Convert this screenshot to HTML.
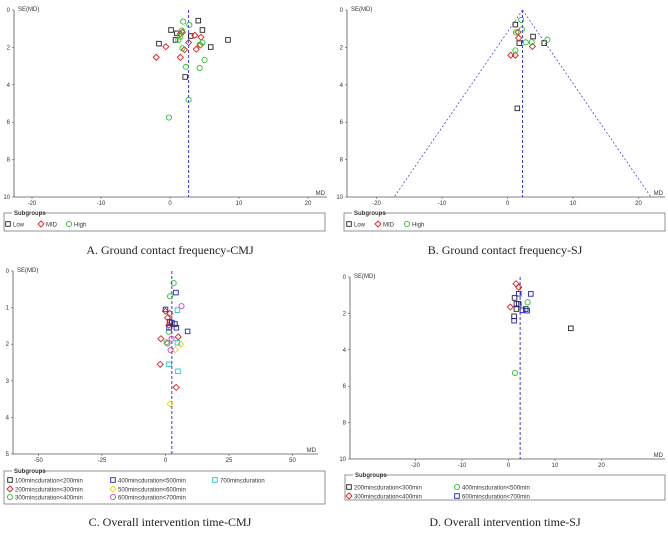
<!DOCTYPE html>
<html><head><meta charset="utf-8"><style>
html,body{margin:0;padding:0;background:#fff}
svg{display:block}
.t{font-family:"Liberation Sans",sans-serif;font-size:6px;fill:#333}
.cap{font-family:"Liberation Serif",serif;font-size:12px;fill:#222}
</style></head><body>
<svg id="fig" width="668" height="533" viewBox="0 0 668 533" xmlns="http://www.w3.org/2000/svg"></svg>
<script>
// ---- Panel A data: ground contact frequency CMJ ----
const aLowMD=[4.1,0.15,4.7,3.0,0.8,8.4,-1.6,5.9,2.2,1.0];
const aLowSE=[0.57,1.07,1.07,1.39,1.6,1.6,1.8,1.98,3.58,1.25];
const aMidMD=[1.8,1.5,3.6,4.5,2.7,-0.6,4.4,3.8,2.1,-2.0,1.5];
const aMidSE=[1.19,1.28,1.35,1.46,1.74,1.96,1.87,2.1,2.12,2.53,2.53];
const aHighMD=[1.9,2.8,1.7,1.5,1.2,4.7,4.3,1.8,5.0,2.3,4.3,2.7,-0.15];
const aHighSE=[0.62,0.8,1.1,1.42,1.6,1.74,1.87,2.05,2.67,3.04,3.1,4.8,5.75];
// ---- Panel B data: ground contact frequency SJ ----
const bLowMD=[1.2,1.8,3.9,5.6,1.5];
const bLowSE=[0.78,1.77,1.42,1.77,5.26];
const bMidMD=[1.7,1.6,3.8,0.5,1.2];
const bMidSE=[1.5,1.19,1.95,2.42,2.42];
const bHighMD=[2.1,2.2,1.3,2.8,3.7,6.1,1.2];
const bHighSE=[0.53,1.03,1.2,1.73,1.72,1.59,2.16];
// ---- Panel C data: overall intervention time CMJ ----
const c1MD=[1.6,3.7], c1SE=[1.39,1.45];
const c2MD=[0,1.7,0.8,1.3,-1.8,5,-2.1,4.2], c2SE=[1.1,1.16,1.28,1.48,1.85,1.8,2.55,3.18];
const c3MD=[3.2,1.8,1.3,0.4], c3SE=[0.33,0.69,1.66,1.95];
const c4MD=[4.1,0,2.5,4.3,8.7,1.4], c4SE=[0.59,1.05,1.41,1.55,1.65,1.55];
const c5MD=[6,3.9,1.8], c5SE=[2.0,2.15,3.63];
const c6MD=[6.3,2.4,0.8,2], c6SE=[0.96,1.85,1.98,2.16];
const c7MD=[4.7,4.7,1.4,4.9], c7SE=[1.07,1.96,2.55,2.74];
// ---- Panel D data: overall intervention time SJ ----
const d1MD=[1.3,2.2,3.7,1.7,1.2,13.4], d1SE=[1.15,1.48,1.76,1.76,2.16,2.82];
const d2MD=[1.6,2.2,0.4], d2SE=[0.37,0.57,1.65];
const d3MD=[4.1,1.4], d3SE=[1.39,5.27];
const d4MD=[2.2,4.8,1.7,3.0,4.0,1.2], d4SE=[0.92,0.93,1.47,1.83,1.85,2.4];
// pooled estimates
const pooled=[2.7,2.3,2.5,2.5];
const xTicksA=[-20,-10,0,10,20], yTicksA=[0,2,4,6,8,10];
const xTicksC=[-50,-25,0,25,50], yTicksC=[0,1,2,3,4,5];

const NS="http://www.w3.org/2000/svg";
const svg=document.getElementById('fig');
function el(tag,attrs,parent,txt){const e=document.createElementNS(NS,tag);for(const k in attrs)e.setAttribute(k,attrs[k]);if(txt!==undefined)e.textContent=txt;(parent||svg).appendChild(e);return e;}
const COL={black:'#222',red:'#e02020',green:'#30c030',blue:'#2020c0',yellow:'#e8d800',magenta:'#d040d0',cyan:'#20c8c8'};

function marker(g,shape,color,x,y){
  let m;
  if(shape==='sq') m=el('rect',{x:x-2.3,y:y-2.3,width:4.6,height:4.6,fill:'none',stroke:color,'stroke-width':0.9},g);
  else if(shape==='di') m=el('polygon',{points:`${x},${y-3} ${x+3},${y} ${x},${y+3} ${x-3},${y}`,fill:'none',stroke:color,'stroke-width':0.9},g);
  else m=el('circle',{cx:x,cy:y,r:2.6,fill:'none',stroke:color,'stroke-width':0.9},g);
  
  
}

function panel(p){
  const g=el('g',{});
  
  
  const sx=v=>p.x0+(v-p.xmin)*(p.x1-p.x0)/(p.xmax-p.xmin);
  const sy=v=>p.y0+(v-p.ymin)*(p.y1-p.y0)/(p.ymax-p.ymin);
  // axes
  el('line',{x1:p.ax,y1:p.y0,x2:p.ax,y2:p.y1,stroke:'#555','stroke-width':0.8},g);
  el('line',{x1:p.ax,y1:p.y1,x2:p.axEnd,y2:p.y1,stroke:'#555','stroke-width':0.8},g);
  p.yt.forEach(v=>{const y=sy(v);el('line',{x1:p.ax-2,y1:y,x2:p.ax,y2:y,stroke:'#555','stroke-width':0.6},g);
    el('text',{x:p.ax-4,y:y+2,'text-anchor':'end',class:'t'},g,String(v));});
  p.xt.forEach(v=>{const x=sx(v);el('line',{x1:x,y1:p.y1,x2:x,y2:p.y1+2,stroke:'#555','stroke-width':0.6},g);
    el('text',{x:x,y:p.y1+8,'text-anchor':'middle',class:'t'},g,String(v));});
  el('text',{x:p.ax+4,y:p.y0+1,class:'t'},g,'SE(MD)');
  el('text',{x:p.axEnd-2,y:p.y1-2,'text-anchor':'end',class:'t'},g,'MD');
  // pooled line
  const mx=sx(p.pooled);
  el('line',{x1:mx,y1:p.y0,x2:mx,y2:p.y1,stroke:'#2222dd','stroke-width':0.9,'stroke-dasharray':'3,2'},g);
  if(p.funnel){
    const yb=p.ymax, half=1.96*yb;
    el('line',{x1:mx,y1:p.y0,x2:sx(p.pooled-half),y2:p.y1,stroke:'#3333dd','stroke-width':0.7,'stroke-dasharray':'2,2'},g);
    el('line',{x1:mx,y1:p.y0,x2:sx(p.pooled+half),y2:p.y1,stroke:'#3333dd','stroke-width':0.7,'stroke-dasharray':'2,2'},g);
  }
  p.series.forEach(s=>s.md.forEach((v,i)=>marker(g,s.shape,s.color,sx(v),sy(s.se[i]))));
  // legend
  const L=p.leg;
  el('rect',{x:L.x,y:L.y,width:L.w,height:L.h,fill:'none',stroke:'#666','stroke-width':0.7},g);
  el('rect',{x:L.x+8,y:L.y-3,width:28,height:6,fill:'#fff'},g);
  el('text',{x:L.x+10,y:L.y+2,class:'t','font-weight':'bold'},g,'Subgroups');
  p.series.forEach((s,i)=>{const it=L.items[i];marker(g,s.shape,s.color,it[0],it[1]);
    const t=el('text',{x:it[0]+5,y:it[1]+2.5,class:'t'},g,s.label);
    
    });
  const c=el('text',{x:p.capX,y:p.capY,'text-anchor':'middle',class:'cap'},g,p.cap);
  
  
}

panel({name:'panel-a-funnel-plot',x0:101,x1:239,xmin:-10,xmax:10,y0:10,y1:197,ymin:0,ymax:10,ax:14,axEnd:327,
  xt:xTicksA,yt:yTicksA,pooled:pooled[0],funnel:false,
  series:[{md:aLowMD,se:aLowSE,shape:'sq',color:COL.black,label:'Low'},
          {md:aMidMD,se:aMidSE,shape:'di',color:COL.red,label:'MID'},
          {md:aHighMD,se:aHighSE,shape:'ci',color:COL.green,label:'High'}],
  leg:{x:4,y:213,w:321,h:18,items:[[8,224],[41,224],[69,224]]},
  cap:'A. Ground contact frequency-CMJ',capX:170,capY:254});
panel({name:'panel-b-funnel-plot',x0:442,x1:573,xmin:-10,xmax:10,y0:10,y1:197,ymin:0,ymax:10,ax:347,axEnd:665,
  xt:xTicksA,yt:yTicksA,pooled:pooled[1],funnel:true,
  series:[{md:bLowMD,se:bLowSE,shape:'sq',color:COL.black,label:'Low'},
          {md:bMidMD,se:bMidSE,shape:'di',color:COL.red,label:'MID'},
          {md:bHighMD,se:bHighSE,shape:'ci',color:COL.green,label:'High'}],
  leg:{x:344,y:213,w:321,h:18,items:[[349,224],[378,224],[407,224]]},
  cap:'B. Ground contact frequency-SJ',capX:505,capY:254});
panel({name:'panel-c-funnel-plot',x0:102,x1:229,xmin:-25,xmax:25,y0:271,y1:454,ymin:0,ymax:5,ax:13,axEnd:318,
  xt:xTicksC,yt:yTicksC,pooled:pooled[2],funnel:false,
  series:[{md:c1MD,se:c1SE,shape:'sq',color:COL.black,label:'100min≤duration<200min'},
          {md:c2MD,se:c2SE,shape:'di',color:COL.red,label:'200min≤duration<300min'},
          {md:c3MD,se:c3SE,shape:'ci',color:COL.green,label:'300min≤duration<400min'},
          {md:c4MD,se:c4SE,shape:'sq',color:COL.blue,label:'400min≤duration<500min'},
          {md:c5MD,se:c5SE,shape:'di',color:COL.yellow,label:'500min≤duration<600min'},
          {md:c6MD,se:c6SE,shape:'ci',color:COL.magenta,label:'600min≤duration<700min'},
          {md:c7MD,se:c7SE,shape:'sq',color:COL.cyan,label:'700min≤duration'}],
  leg:{x:4,y:471,w:321,h:33,items:[[10,480],[10,489],[10,497],[113,480],[113,489],[113,497],[215,480]]},
  cap:'C. Overall intervention time-CMJ',capX:170,capY:526});
panel({name:'panel-d-funnel-plot',x0:462,x1:555,xmin:-10,xmax:10,y0:277,y1:459,ymin:0,ymax:10,ax:350,axEnd:665,
  xt:xTicksA,yt:yTicksA,pooled:pooled[3],funnel:false,
  series:[{md:d1MD,se:d1SE,shape:'sq',color:COL.black,label:'200min≤duration<300min'},
          {md:d2MD,se:d2SE,shape:'di',color:COL.red,label:'300min≤duration<400min'},
          {md:d3MD,se:d3SE,shape:'ci',color:COL.green,label:'400min≤duration<500min'},
          {md:d4MD,se:d4SE,shape:'sq',color:COL.blue,label:'600min≤duration<700min'}],
  leg:{x:345,y:475,w:320,h:25,items:[[349,487],[349,496],[457,487],[457,496]]},
  cap:'D. Overall intervention time-SJ',capX:505,capY:526});
</script>
</body></html>
